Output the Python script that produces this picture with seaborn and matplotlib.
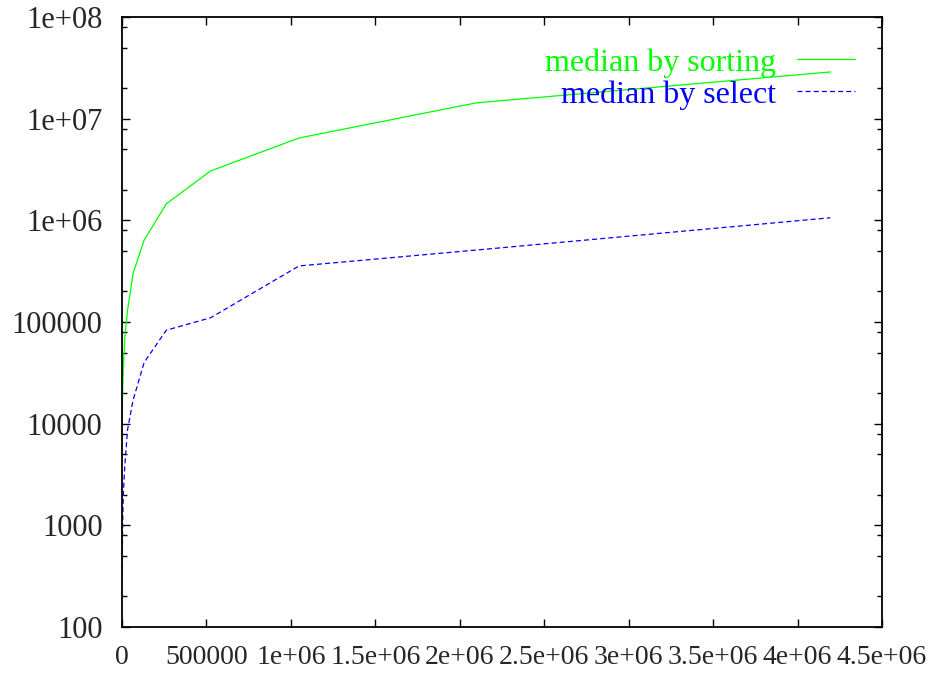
import numpy as np
import pandas as pd
import seaborn as sns
import matplotlib
matplotlib.use("Agg")
import matplotlib.pyplot as plt
from matplotlib.ticker import LogLocator, NullFormatter

# ---- data ----
n_values = [1024, 2048, 4096, 8192, 16384, 32768, 65536, 131072,
            262144, 524288, 1048576, 2097152, 4194304]
sorting_times = [1.0e4, 1.5e4, 2.2e4, 3.6e4, 7.0e4, 1.3e5, 3.0e5, 6.4e5,
                 1.45e6, 3.06e6, 6.46e6, 1.43e7, 2.88e7]
select_times = [310, 580, 1.1e3, 2.1e3, 3.8e3, 8.7e3, 1.7e4, 4.0e4,
                8.3e4, 1.1e5, 3.56e5, 5.1e5, 1.06e6]
series_labels = ["median by sorting", "median by select"]
x_ticks = [0, 500000, 1000000, 1500000, 2000000, 2500000, 3000000,
           3500000, 4000000, 4500000]
x_tick_labels = ["0", "500000", "1e+06", "1.5e+06", "2e+06", "2.5e+06",
                 "3e+06", "3.5e+06", "4e+06", "4.5e+06"]
y_ticks = [1e2, 1e3, 1e4, 1e5, 1e6, 1e7, 1e8]
y_tick_labels = ["100", "1000", "10000", "100000", "1e+06", "1e+07", "1e+08"]

sns.set_style("ticks")
plt.rcParams["font.family"] = ["Liberation Serif", "DejaVu Serif"]

fig = plt.figure(figsize=(9.37, 6.73), dpi=100)
ax = fig.add_axes([122 / 937, 1 - 627 / 673, 760 / 937, 610 / 673])

df_sort = pd.DataFrame({"n": n_values, "t": sorting_times})
df_sel = pd.DataFrame({"n": n_values, "t": select_times})

sns.lineplot(data=df_sort, x="n", y="t", ax=ax, color="#00ff00", lw=0.9,
             label=series_labels[0], sort=False, errorbar=None)
sns.lineplot(data=df_sel, x="n", y="t", ax=ax, color="#0000ff", lw=0.9,
             linestyle=(0, (4, 2.5)), label=series_labels[1], sort=False,
             errorbar=None)

ax.set_yscale("log")
ax.set_xlim(0, 4500000)
ax.set_ylim(100, 1e8)
ax.set_xticks(x_ticks)
ax.set_xticklabels(x_tick_labels, fontsize=20)
ax.set_yticks(y_ticks)
ax.set_yticklabels(y_tick_labels, fontsize=22)
ax.yaxis.set_minor_locator(LogLocator(base=10, subs=(2, 5, 8)))
ax.yaxis.set_minor_formatter(NullFormatter())
ax.set_xlabel("")
ax.set_ylabel("")

ax.tick_params(axis="both", which="major", direction="in", length=6,
               width=1.0, top=True, right=True, color="black")
ax.tick_params(axis="y", which="minor", direction="in", length=3.5,
               width=1.0, right=True, color="black")
ax.tick_params(axis="y", which="major", pad=14)
ax.tick_params(axis="x", which="major", pad=13)
ax.tick_params(axis="x", which="minor", bottom=False, top=False)
for sp in ax.spines.values():
    sp.set_color("black")
    sp.set_linewidth(1.3)
    sp.set_visible(True)

leg = ax.legend(loc="upper right", bbox_to_anchor=((855 - 122) / 760, 0.949),
                frameon=False, markerfirst=False, labelcolor="linecolor",
                fontsize=23, handlelength=1.8, handletextpad=0.66,
                labelspacing=0.075, borderpad=0, borderaxespad=0)

fig.savefig("out.png", dpi=100)
